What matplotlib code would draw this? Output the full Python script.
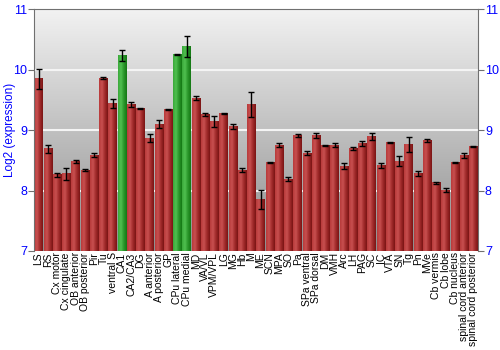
import numpy as np
import matplotlib
matplotlib.use('Agg')
from matplotlib import pyplot as plt
from matplotlib.colors import LinearSegmentedColormap

labels = ['LS', 'RS', 'Cx motor', 'Cx cingulate', 'OB anterior', 'OB posterior', 'Pir', 'Tu',
          'ventral S', 'CA1', 'CA2/CA3', 'DG', 'A anterior', 'A posterior', 'GP', 'CPu lateral',
          'CPu medial', 'MD', 'VA/VL', 'VPM/VPL', 'LG', 'MG', 'Hb', 'M', 'ME', 'SCN', 'MPA', 'SO',
          'Pa', 'SPa ventral', 'SPa dorsal', 'DM', 'VMH', 'Arc', 'LH', 'PAG', 'SC', 'IC', 'VTA',
          'SN', 'Tg', 'Pn', 'MVe', 'Cb vermis', 'Cb lobe', 'Cb nucleus', 'spinal cord anterior',
          'spinal cord posterior']
values = [9.85, 8.69, 8.26, 8.28, 8.48, 8.34, 8.59, 9.86, 9.44, 10.24, 9.42, 9.36, 8.87, 9.10,
          9.34, 10.25, 10.39, 9.53, 9.26, 9.15, 9.28, 9.06, 8.34, 9.43, 7.85, 8.46, 8.75, 8.19,
          8.91, 8.62, 8.91, 8.75, 8.75, 8.40, 8.70, 8.78, 8.90, 8.42, 8.80, 8.49, 8.76, 8.28,
          8.83, 8.13, 8.01, 8.46, 8.58, 8.73]
errors = [0.16, 0.07, 0.03, 0.10, 0.02, 0.01, 0.03, 0.02, 0.07, 0.09, 0.04, 0.01, 0.06, 0.07,
          0.01, 0.01, 0.17, 0.03, 0.02, 0.09, 0.01, 0.04, 0.04, 0.21, 0.16, 0.01, 0.03, 0.03,
          0.03, 0.03, 0.04, 0.01, 0.03, 0.05, 0.03, 0.04, 0.06, 0.04, 0.01, 0.08, 0.12, 0.04,
          0.03, 0.02, 0.03, 0.01, 0.04, 0.01]
highlight = ['CA1', 'CPu lateral', 'CPu medial']

red = LinearSegmentedColormap.from_list('r', ['#b83a3a', '#c85050', '#a02a2a', '#7a1414'])
green = LinearSegmentedColormap.from_list('g', ['#3aa83a', '#50c050', '#2a962a', '#147814'])
bg = LinearSegmentedColormap.from_list('bg', ['#8e8e8e', '#f2f2f2'])

fig = plt.figure(figsize=(5, 3.5), dpi=100)
ax = fig.add_axes([0.068, 0.283, 0.888, 0.69])

x = np.arange(len(labels))
ymin, ymax = 7, 11

# background gradient
ax.imshow(np.linspace(0, 1, 256).reshape(-1, 1), cmap=bg, aspect='auto', origin='lower',
          extent=[-0.5, len(labels) - 0.5, ymin, ymax], zorder=0)
for g in [8, 9, 10]:
    ax.axhline(g, color='#f4f4f4', lw=1.5, zorder=1)

grad = np.linspace(0, 1, 64).reshape(1, -1)
w = 0.9
for i, (lab, v) in enumerate(zip(labels, values)):
    cm = green if lab in highlight else red
    ax.imshow(grad, cmap=cm, aspect='auto', extent=[i - w / 2, i + w / 2, ymin, v], zorder=2)
ax.errorbar(x, values, yerr=errors, fmt='none', ecolor='black', elinewidth=1, capsize=2,
            capthick=1, zorder=3)
ax.set_xlim(-0.5, len(labels) - 0.5)
ax.set_ylim(ymin, ymax)

ax.set_xticks(x)
ax.set_xticklabels(labels, rotation=90, fontsize=7.5, family='Liberation Sans')
ax.tick_params(axis='x', length=0, pad=1)
ax.set_yticks([7, 8, 9, 10, 11])
ax.tick_params(axis='y', colors='#707070', labelcolor='blue', labelsize=9, length=4, pad=1,
               right=True, labelright=True)
for t in ax.get_yticklabels():
    t.set_family('Liberation Sans')
ax.set_ylabel('Log2 (expression)', color='blue', fontsize=8.5, family='Liberation Sans',
              va='center')
ax.yaxis.set_label_coords(-0.055, 0.5)
for s in ax.spines.values():
    s.set_color('#707070')
ax.spines['bottom'].set_visible(False)

fig.savefig('out.png', dpi=100)
